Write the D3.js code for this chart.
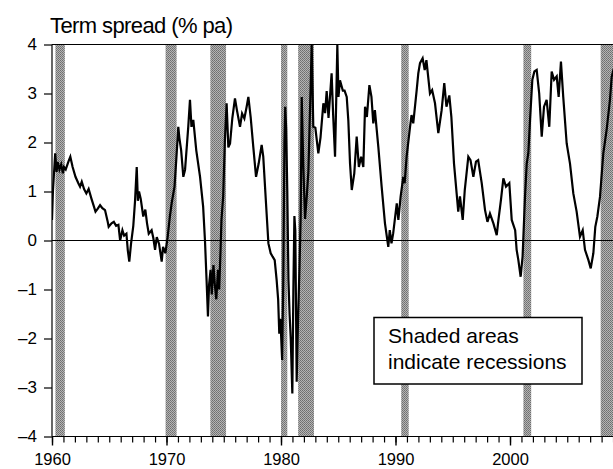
<!DOCTYPE html>
<html>
<head>
<meta charset="utf-8">
<script src="https://cdn.jsdelivr.net/npm/d3@7"></script>
<style>
  html, body { margin: 0; padding: 0; background: #fff; }
  svg { display: block; font-family: "Liberation Sans", Arial, Helvetica, sans-serif; }
</style>
</head>
<body>
<svg id="chart" width="613" height="469"></svg>
<script>
// ---- data ----
const title = "Term spread (% pa)";
const legendLines = ["Shaded areas", "indicate recessions"];
const yTicks = [-4, -3, -2, -1, 0, 1, 2, 3, 4];
const xMajorTicks = [1960, 1970, 1980, 1990, 2000];

// recession periods (start, end) in decimal years
const recessionStart = [1960.30, 1969.92, 1973.83, 1980.00, 1981.50, 1990.50, 2001.17, 2007.92];
const recessionEnd   = [1961.12, 1970.88, 1975.20, 1980.55, 1982.88, 1991.15, 2001.85, 2009.50];

// term spread series (decimal year, % pa)
const years = [
1960.00,1960.08,1960.28,1960.40,1960.50,1960.65,1960.80,1960.95,1961.05,1961.20,
1961.45,1961.60,1961.80,1962.05,1962.30,1962.45,1962.60,1962.80,1963.00,1963.20,
1963.45,1963.65,1963.80,1964.00,1964.20,1964.40,1964.63,1964.85,1964.95,1965.20,
1965.40,1965.60,1965.80,1965.95,1966.15,1966.30,1966.50,1966.62,1966.75,1966.90,
1967.10,1967.25,1967.40,1967.50,1967.60,1967.75,1967.97,1968.15,1968.30,1968.45,
1968.70,1968.85,1969.00,1969.15,1969.35,1969.58,1969.70,1969.90,1970.10,1970.30,
1970.45,1970.70,1970.85,1971.03,1971.12,1971.28,1971.47,1971.62,1971.90,1972.05,
1972.18,1972.34,1972.60,1972.93,1973.20,1973.36,1973.50,1973.62,1973.72,1973.85,
1973.95,1974.10,1974.22,1974.35,1974.50,1974.60,1974.72,1974.80,1974.95,1975.10,
1975.25,1975.40,1975.55,1975.75,1975.98,1976.15,1976.42,1976.60,1976.80,1977.00,
1977.15,1977.35,1977.58,1977.82,1978.05,1978.31,1978.45,1978.69,1978.90,1979.10,
1979.27,1979.45,1979.62,1979.75,1979.85,1979.95,1980.10,1980.20,1980.30,1980.37,
1980.45,1980.55,1980.65,1980.75,1980.85,1980.99,1981.08,1981.17,1981.25,1981.37,
1981.50,1981.62,1981.72,1981.81,1981.95,1982.10,1982.25,1982.39,1982.55,1982.68,
1982.82,1983.00,1983.26,1983.45,1983.70,1983.85,1983.99,1984.15,1984.42,1984.55,
1984.72,1984.80,1984.92,1985.02,1985.15,1985.40,1985.55,1985.74,1985.88,1986.03,
1986.18,1986.40,1986.61,1986.80,1987.00,1987.19,1987.34,1987.50,1987.72,1987.90,
1988.06,1988.20,1988.50,1988.79,1989.08,1989.37,1989.50,1989.65,1989.80,1990.11,
1990.25,1990.45,1990.68,1990.80,1990.97,1991.27,1991.40,1991.55,1991.85,1991.99,
1992.14,1992.37,1992.55,1992.70,1993.01,1993.20,1993.45,1993.74,1994.03,1994.26,
1994.45,1994.70,1994.88,1995.11,1995.34,1995.48,1995.63,1995.87,1996.05,1996.36,
1996.55,1996.80,1997.03,1997.22,1997.53,1997.82,1998.03,1998.25,1998.55,1998.84,
1998.99,1999.21,1999.42,1999.65,1999.94,2000.15,2000.45,2000.58,2000.73,2000.93,
2001.10,2001.31,2001.46,2001.60,2001.75,2001.95,2002.13,2002.33,2002.55,2002.77,
2002.97,2003.20,2003.43,2003.64,2003.85,2004.08,2004.25,2004.45,2004.65,2004.95,
2005.24,2005.53,2005.82,2006.11,2006.35,2006.55,2006.85,2007.05,2007.28,2007.45,
2007.63,2007.86,2008.15,2008.44,2008.73,2008.88,2009.05
];
const spread = [
0.42,1.00,1.78,1.40,1.60,1.45,1.55,1.37,1.50,1.45,
1.62,1.71,1.50,1.30,1.17,1.10,1.20,1.05,0.96,1.05,
0.85,0.70,0.59,0.65,0.72,0.66,0.62,0.40,0.28,0.35,
0.38,0.30,0.32,0.00,0.21,0.10,0.14,-0.20,-0.43,-0.07,
0.30,0.80,1.50,0.81,1.00,0.85,0.49,0.63,0.35,0.14,
0.21,0.05,-0.19,0.07,-0.07,-0.43,-0.13,-0.26,0.07,0.50,
0.76,1.10,1.64,2.32,2.10,1.84,1.30,1.44,2.32,2.87,
2.32,2.46,1.84,1.30,0.69,0.00,-0.81,-1.55,-0.90,-0.60,
-1.10,-0.50,-0.90,-1.20,-0.60,-1.00,-0.20,0.42,0.90,2.05,
2.80,1.90,1.98,2.50,2.90,2.66,2.32,2.59,2.49,2.73,
2.93,2.52,1.91,1.30,1.57,1.95,1.71,0.76,-0.06,-0.26,
-0.33,-0.40,-0.81,-1.20,-1.90,-1.60,-2.44,-0.80,2.00,2.73,
2.30,1.00,-0.80,-1.50,-2.00,-3.12,-1.00,0.50,0.20,-2.88,
-1.50,-0.50,0.50,2.93,1.50,0.44,0.90,1.40,2.80,4.00,
2.32,2.30,1.78,2.10,2.80,2.60,3.05,2.50,3.41,2.59,
1.71,2.60,3.99,2.93,3.27,3.06,3.06,2.93,2.45,1.57,
1.03,1.37,2.12,1.50,1.71,1.50,2.73,2.52,3.17,2.93,
2.39,2.66,1.91,1.10,0.35,-0.13,0.21,-0.06,0.15,0.76,
0.42,0.90,1.30,1.17,1.71,2.32,2.56,2.39,3.07,3.41,
3.62,3.72,3.48,3.68,3.00,3.07,2.80,2.19,2.66,3.21,
2.73,2.96,2.52,1.57,0.96,0.59,0.90,0.42,1.03,1.71,
1.64,1.30,1.61,1.64,1.17,0.62,0.38,0.55,0.35,0.11,
0.42,0.83,1.27,1.10,1.17,0.42,0.21,-0.19,-0.40,-0.74,
-0.33,0.89,1.57,1.78,2.46,3.28,3.45,3.48,3.00,2.12,
2.73,2.87,2.32,3.45,3.28,3.35,2.93,3.65,2.93,1.98,
1.57,0.96,0.59,0.08,0.21,-0.19,-0.40,-0.57,-0.26,0.28,
0.49,0.89,1.78,2.26,2.87,3.34,3.50
];

// ---- layout ----
const svg = d3.select("#chart");
const plotLeft = 52, plotTop = 44.5, plotBottom = 436.5, plotRight = 640;

const x = d3.scaleLinear().domain([1960, 2010]).range([52, 624.5]);
const y = d3.scaleLinear().domain([-4, 4]).range([plotBottom, plotTop]);

// stipple pattern for recession shading
const defs = svg.append("defs");
const pat = defs.append("pattern").attr("id", "stip")
  .attr("width", 2).attr("height", 2).attr("patternUnits", "userSpaceOnUse");
pat.append("rect").attr("width", 2).attr("height", 2).attr("fill", "#b4b4b4");
pat.append("rect").attr("width", 1).attr("height", 1).attr("fill", "#6e6e6e");
pat.append("rect").attr("x", 1).attr("y", 1).attr("width", 1).attr("height", 1).attr("fill", "#7a7a7a");

defs.append("clipPath").attr("id", "plotclip").append("rect")
  .attr("x", plotLeft).attr("y", plotTop - 1).attr("width", plotRight - plotLeft).attr("height", plotBottom - plotTop + 2);

// recession bands
svg.append("g").attr("clip-path", "url(#plotclip)")
  .selectAll("rect").data(recessionStart.map((s, i) => [s, recessionEnd[i]]))
  .join("rect")
  .attr("x", d => x(d[0]))
  .attr("width", d => x(d[1]) - x(d[0]))
  .attr("y", plotTop)
  .attr("height", plotBottom - plotTop)
  .attr("fill", "url(#stip)");

// zero line
svg.append("line")
  .attr("x1", plotLeft).attr("x2", plotRight)
  .attr("y1", y(0)).attr("y2", y(0))
  .attr("stroke", "#000").attr("stroke-width", 1.2);

// top frame line
svg.append("line")
  .attr("x1", plotLeft).attr("x2", plotRight)
  .attr("y1", plotTop).attr("y2", plotTop)
  .attr("stroke", "#000").attr("stroke-width", 1.2);

// series line
const pts = years.map((yr, i) => [yr, spread[i]]);
svg.append("g").attr("clip-path", "url(#plotclip)")
  .append("path")
  .datum(pts)
  .attr("fill", "none")
  .attr("stroke", "#000")
  .attr("stroke-width", 2.2)
  .attr("stroke-linejoin", "miter")
  .attr("d", d3.line().x(d => x(d[0])).y(d => y(d[1])));

// y axis
const fmt = v => (v < 0 ? "\u2013" + Math.abs(v) : String(v));
const yAxis = svg.append("g").attr("transform", `translate(${plotLeft},0)`)
  .call(d3.axisLeft(y).tickValues(yTicks).tickSize(8).tickPadding(7).tickFormat(fmt));
yAxis.select(".domain").attr("stroke-width", 1.2).attr("d", `M0,${plotTop}V${plotBottom}`);
yAxis.selectAll(".tick line").attr("stroke-width", 1.2);
yAxis.selectAll("text").attr("font-size", 17).attr("fill", "#000")
  .attr("font-family", "Liberation Sans, Arial, sans-serif");

// x axis: minor yearly ticks and major decade ticks
const minorYears = d3.range(1960, 2011);
const xAxisMinor = svg.append("g").attr("transform", `translate(0,${plotBottom})`)
  .call(d3.axisBottom(x).tickValues(minorYears).tickSize(6).tickFormat(""));
xAxisMinor.select(".domain").attr("stroke-width", 1.2).attr("d", `M${plotLeft},0H${plotRight}`);
xAxisMinor.selectAll(".tick line").attr("stroke-width", 1.2);

const xAxisMajor = svg.append("g").attr("transform", `translate(0,${plotBottom})`)
  .call(d3.axisBottom(x).tickValues(xMajorTicks).tickSize(9).tickPadding(8).tickFormat(d3.format("d")));
xAxisMajor.select(".domain").remove();
xAxisMajor.selectAll(".tick line").attr("stroke-width", 1.4);
xAxisMajor.selectAll("text").attr("font-size", 16.5).attr("fill", "#000")
  .attr("font-family", "Liberation Sans, Arial, sans-serif");

// title
svg.append("text")
  .attr("x", 50).attr("y", 33)
  .attr("font-size", 22).attr("letter-spacing", -0.6)
  .attr("fill", "#000")
  .text(title);

// legend box
const lg = svg.append("g");
lg.append("rect")
  .attr("x", 374).attr("y", 317.5).attr("width", 208).attr("height", 66.5)
  .attr("fill", "#fff").attr("stroke", "#000").attr("stroke-width", 1.5);
lg.selectAll("text").data(legendLines).join("text")
  .attr("x", 388).attr("y", (d, i) => 343 + i * 25.5)
  .attr("font-size", 21).attr("fill", "#000")
  .text(d => d);
</script>
</body>
</html>
